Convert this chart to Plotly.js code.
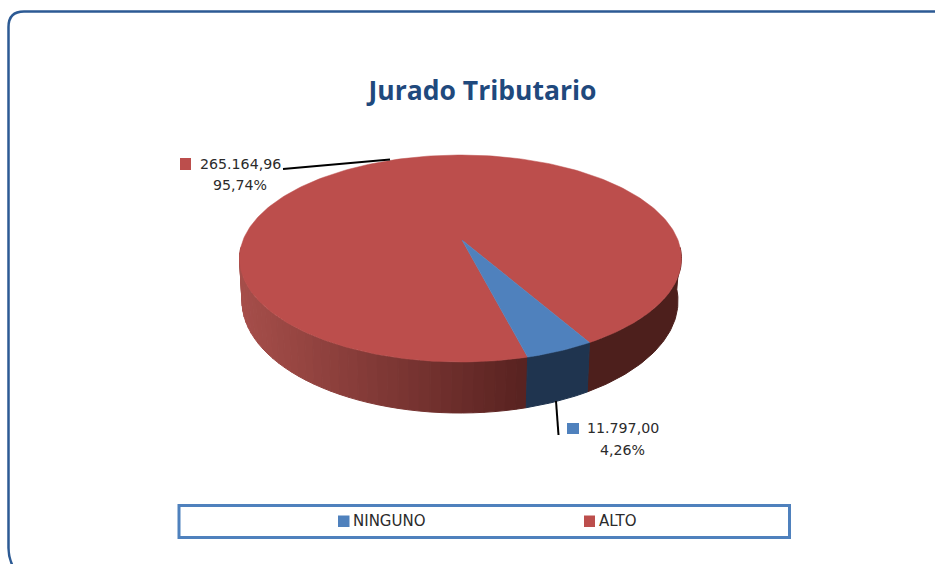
<!DOCTYPE html>
<html>
<head>
<meta charset="utf-8">
<script src="https://cdn.plot.ly/plotly-3.0.1.min.js"></script>
<style>html,body{margin:0;padding:0;background:#fff;overflow:hidden}#chart{width:935px;height:564px}</style>
</head>
<body>
<div id="chart"></div>
<script>
// Data
var categories = ['NINGUNO', 'ALTO'];
var values = [11797.00, 265164.96];
var chartTitle = 'Jurado Tributario';

// Styles
var topColors = ['#4F81BD', '#BC4E4C'];
var wallBlue = '#1F344F';
var wallRedDark = '#4D1F1C';
var wallRedLeft = [166, 78, 74];
var wallRedNear = [88, 34, 32];

// 3D projection of the pie (pixel space of the hidden axes)
var rimTop = {cx: 460.5, cy: 258.5, rx: 221, ry: 103.5};
var rimBot = {cx: 460, cy: 301, rx: 218, ry: 112};
var apex = {x: 462, y: 240};
var startDeg = 54.3;      // rim angle where the first slice starts
var perspective = 1.175;  // front of the pie is stretched by the tilt

var total = values.reduce(function (a, b) { return a + b; }, 0);
var spanDeg = values[0] / total * 360 * perspective;
var endDeg = startDeg + spanDeg;

function pt(rim, deg) {
  var r = deg * Math.PI / 180;
  return [rim.cx + rim.rx * Math.cos(r), rim.cy + rim.ry * Math.sin(r)];
}
function wallTrace(a, b, color) {
  var steps = Math.max(2, Math.ceil(Math.abs(b - a)));
  var xs = [], ys = [], i, p;
  for (i = 0; i <= steps; i++) { p = pt(rimTop, a + (b - a) * i / steps); xs.push(p[0]); ys.push(p[1]); }
  for (i = steps; i >= 0; i--) { p = pt(rimBot, a + (b - a) * i / steps); xs.push(p[0]); ys.push(p[1]); }
  xs.push(xs[0]); ys.push(ys[0]);
  return {type: 'scatter', mode: 'lines', x: xs, y: ys, fill: 'toself', fillcolor: color,
          line: {color: color, width: 1}, hoverinfo: 'skip', showlegend: false};
}
function sliceTrace(a, b, color, name) {
  var steps = Math.ceil(Math.abs(b - a));
  var xs = [apex.x], ys = [apex.y];
  for (var i = 0; i <= steps; i++) { var p = pt(rimTop, a + (b - a) * i / steps); xs.push(p[0]); ys.push(p[1]); }
  xs.push(apex.x); ys.push(apex.y);
  return {type: 'scatter', mode: 'lines', x: xs, y: ys, fill: 'toself', fillcolor: color,
          line: {color: color, width: 0.5}, name: name, hoverinfo: 'name', showlegend: false};
}

var traces = [];
// right wall, dark
traces.push(wallTrace(-6, startDeg, wallRedDark));
// left wall, gradient from light (left) to dark (next to blue slice)
var bands = 40;
for (var k = 0; k < bands; k++) {
  var a = 186 + (endDeg - 186) * k / bands;
  var b = 186 + (endDeg - 186) * (k + 1) / bands;
  var xm = (pt(rimTop, (a + b) / 2)[0] - pt(rimTop, 186)[0]) / (pt(rimTop, endDeg)[0] - pt(rimTop, 186)[0]);
  var c = wallRedLeft.map(function (v, j) { return Math.round(v + (wallRedNear[j] - v) * xm); });
  traces.push(wallTrace(a, b, 'rgb(' + c.join(',') + ')'));
}
// blue wall
traces.push(wallTrace(startDeg, endDeg, wallBlue));
// top face
traces.push(sliceTrace(endDeg, startDeg + 360, topColors[1], categories[1]));
traces.push(sliceTrace(startDeg, endDeg, topColors[0], categories[0]));

// Labels
function fmt(v) {
  var p = v.toFixed(2).split('.');
  return p[0].replace(/\B(?=(\d{3})+$)/g, '.') + ',' + p[1];
}
function pct(v) { return (v / total * 100).toFixed(2).replace('.', ',') + '%'; }

var labelFont = {family: 'DejaVu Sans', size: 14.2, color: '#2b2b2b'};
var legendFont = {family: 'DejaVu Sans', size: 15, color: '#2b2b2b'};
function note(x, y, text, anchor, font) {
  return {xref: 'x', yref: 'y', x: x, y: y, text: text, showarrow: false,
          xanchor: anchor || 'center', yanchor: 'middle', font: font || labelFont};
}
var annotations = [
  note(240.5, 164, fmt(values[1])),
  note(240, 185, pct(values[1])),
  note(623, 428, fmt(values[0])),
  note(622, 450, pct(values[0])),
  note(350.5, 521, categories[0], 'left', legendFont),
  note(596.5, 521, categories[1], 'left', legendFont)
];

function rect(x0, y0, x1, y1, fill) {
  return {type: 'rect', xref: 'x', yref: 'y', x0: x0, y0: y0, x1: x1, y1: y1,
          fillcolor: fill, line: {width: 0}};
}
var shapes = [
  {type: 'path', xref: 'x', yref: 'y', layer: 'below',
   path: 'M 960,11.5 L 24,11.5 Q 8.5,11.5 8.5,27 L 8.5,548 Q 8.5,560 15,570',
   line: {color: '#2C5A94', width: 2.5}, fillcolor: 'rgba(0,0,0,0)'},
  {type: 'rect', xref: 'x', yref: 'y', x0: 179, y0: 505.5, x1: 789.5, y1: 537.5,
   line: {color: '#4F81BD', width: 3}, fillcolor: 'rgba(0,0,0,0)'},
  rect(338, 515.5, 349.5, 527, topColors[0]),
  rect(584, 515.5, 595, 527, topColors[1]),
  rect(180, 158, 191, 170, topColors[1]),
  rect(567, 423, 579, 434, topColors[0]),
  {type: 'line', xref: 'x', yref: 'y', x0: 283, y0: 169, x1: 390, y1: 159.5, line: {color: '#000', width: 2}},
  {type: 'line', xref: 'x', yref: 'y', x0: 556, y0: 401, x1: 558.5, y1: 435, line: {color: '#000', width: 2}}
];

var layout = {
  width: 935, height: 564,
  margin: {l: 0, r: 0, t: 0, b: 0, pad: 0},
  paper_bgcolor: '#fff', plot_bgcolor: '#fff',
  showlegend: false,
  title: {text: '<b>' + chartTitle + '</b>', x: 482.5 / 935, xanchor: 'center',
          y: 1 - 91 / 564, yanchor: 'middle', font: {family: 'Open Sans', size: 26.5, color: '#1F497D'}},
  xaxis: {range: [0, 935], visible: false, fixedrange: true},
  yaxis: {range: [564, 0], visible: false, fixedrange: true},
  annotations: annotations,
  shapes: shapes
};
Plotly.newPlot('chart', traces, layout, {displayModeBar: false, staticPlot: true});
</script>
</body>
</html>
